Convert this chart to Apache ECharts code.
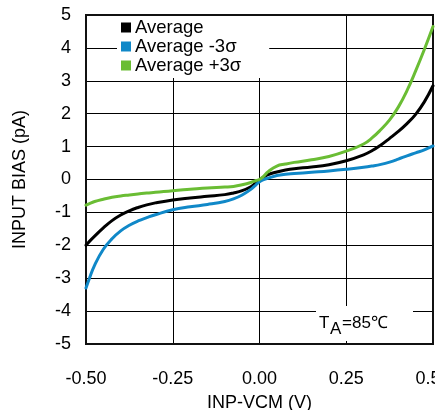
<!DOCTYPE html>
<html>
<head>
<meta charset="utf-8">
<script src="https://cdn.jsdelivr.net/npm/echarts@6/dist/echarts.min.js"></script>
<style>html,body{margin:0;padding:0;background:#fff}#c{width:435px;height:410px}</style>
</head>
<body>
<div id="c"></div>
<script>
var xValues   = [-0.5,-0.49,-0.475,-0.45,-0.425,-0.4,-0.375,-0.35,-0.325,-0.3,-0.25,-0.2,-0.15,-0.1,-0.075,-0.05,-0.025,-0.01,0,0.01,0.025,0.05,0.075,0.1,0.15,0.2,0.25,0.3,0.325,0.35,0.375,0.4,0.425,0.45,0.475,0.5];
var average   = [-2.0,-1.88,-1.72,-1.47,-1.25,-1.08,-0.95,-0.85,-0.77,-0.71,-0.62,-0.56,-0.51,-0.46,-0.41,-0.34,-0.22,-0.1,-0.02,0.06,0.15,0.23,0.29,0.33,0.38,0.45,0.57,0.75,0.88,1.05,1.25,1.46,1.7,1.98,2.36,2.85];
var avgMinus3s= [-3.3,-3.0,-2.6,-2.12,-1.8,-1.56,-1.39,-1.26,-1.16,-1.07,-0.92,-0.83,-0.76,-0.67,-0.59,-0.47,-0.3,-0.16,-0.07,-0.01,0.04,0.12,0.16,0.18,0.22,0.26,0.31,0.37,0.41,0.46,0.53,0.62,0.72,0.81,0.9,1.02];
var avgPlus3s = [-0.78,-0.73,-0.67,-0.6,-0.54,-0.5,-0.47,-0.44,-0.41,-0.39,-0.34,-0.3,-0.26,-0.23,-0.21,-0.16,-0.09,-0.03,0.0,0.08,0.24,0.41,0.47,0.52,0.6,0.7,0.86,1.08,1.27,1.52,1.81,2.2,2.7,3.3,3.95,4.65];
var seriesNames = ['Average','Average -3σ','Average +3σ'];
var xTicks = [-0.5,-0.25,0,0.25,0.5];

function pairs(ys){ return xValues.map(function(x,i){ return [x, ys[i]]; }); }
var FONT = "'Liberation Sans', Arial, sans-serif";
var chart = echarts.init(document.getElementById('c'));
var mk = function(name, ys, color){
  return {name:name, type:'line', data:pairs(ys), symbol:'none', smooth:0.45,
    lineStyle:{color:color, width:3, join:'round', cap:'round'}, itemStyle:{color:color}, z:5};
};
chart.setOption({
  animation:false,
  backgroundColor:'#fff',
  textStyle:{fontFamily:FONT},
  grid:{left:86, right:2, top:15, bottom:66, outerBoundsMode:'none', containLabel:false,
    show:true, borderColor:'#111', borderWidth:2, backgroundColor:'transparent', z:3},
  legend:{
    data:seriesNames, orient:'vertical', left:117, top:16, icon:'rect', itemWidth:10, itemHeight:10,
    itemGap:0, padding:[2,28,3,4], backgroundColor:'#fff', z:10,
    textStyle:{fontSize:18.5, color:'#000', fontFamily:FONT, lineHeight:18, padding:[0,0,0,-1]}
  },
  xAxis:{
    type:'value', min:-0.5, max:0.5, interval:0.25,
    name:'INP-VCM (V)', nameLocation:'middle', nameGap:50,
    nameTextStyle:{fontSize:18, color:'#000', fontFamily:FONT},
    axisLine:{show:false}, axisTick:{show:false},
    axisLabel:{fontSize:18, color:'#000', margin:26, fontFamily:FONT, hideOverlap:false,
      formatter:function(v){ return v.toFixed(2); }},
    splitLine:{show:true, lineStyle:{color:'#000', width:1}}
  },
  yAxis:{
    type:'value', min:-5, max:5, interval:1,
    name:'INPUT BIAS (pA)', nameLocation:'middle', nameGap:57,
    nameTextStyle:{fontSize:18, color:'#000', fontFamily:FONT},
    axisLine:{show:false}, axisTick:{show:false},
    axisLabel:{fontSize:18, color:'#000', margin:15, fontFamily:FONT},
    splitLine:{show:true, lineStyle:{color:'#000', width:1}}
  },
  graphic:[
    {type:'rect', z:100, shape:{x:316, y:306, width:97, height:35}, style:{fill:'#fff'}},
    {type:'text', z:101, left:319, top:315, style:{text:'T', font:'17px '+FONT, fill:'#000'}},
    {type:'text', z:101, left:330, top:321, style:{text:'A', font:'17px '+FONT, fill:'#000'}},
    {type:'text', z:101, left:342, top:315, style:{text:'=85℃', font:'17px '+FONT, fill:'#000'}}
  ],
  series:[
    mk(seriesNames[0], average, '#000000'),
    mk(seriesNames[1], avgMinus3s, '#1088c8'),
    mk(seriesNames[2], avgPlus3s, '#6abd34')
  ]
});
</script>
</body>
</html>
